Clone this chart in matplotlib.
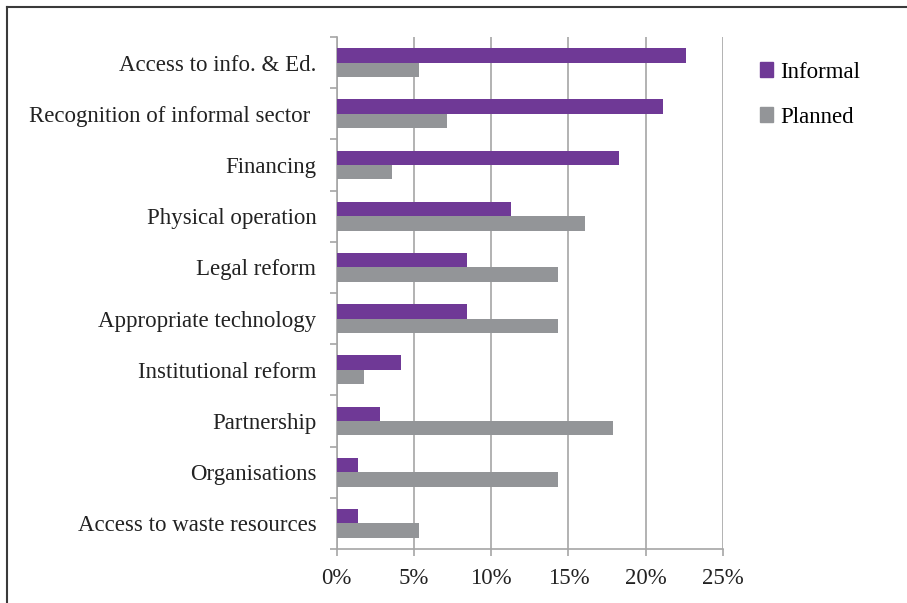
import matplotlib.pyplot as plt
from matplotlib.patches import Rectangle
from matplotlib.lines import Line2D
from matplotlib.ticker import MultipleLocator, PercentFormatter
import numpy as np

categories = ["Access to info. & Ed.", "Recognition of informal sector ", "Financing",
              "Physical operation", "Legal reform", "Appropriate technology",
              "Institutional reform", "Partnership", "Organisations",
              "Access to waste resources"]
informal = [22.6, 21.1, 18.3, 11.3, 8.45, 8.45, 4.2, 2.8, 1.4, 1.4]
planned = [5.36, 7.15, 3.57, 16.1, 14.3, 14.3, 1.8, 17.9, 14.3, 5.36]

purple = "#6f3996"
grey = "#939598"
axis_col = "#a6a6a6"
fs = 16.5

plt.rcParams['font.family'] = ['Liberation Serif', 'DejaVu Serif']

fig = plt.figure(figsize=(9.07, 6.03), dpi=100)
ax = fig.add_axes([336.5 / 907, 54 / 603, 386.5 / 907, 512 / 603])

y = np.arange(len(categories))
h = 0.28
ax.barh(y - h / 2, informal, height=h, color=purple, label="Informal", zorder=3)
ax.barh(y + h / 2, planned, height=h, color=grey, label="Planned", zorder=3)

ax.set_xlim(0, 25)
ax.set_ylim(len(categories) - 0.5, -0.5)
ax.xaxis.set_major_locator(MultipleLocator(5))
ax.xaxis.set_major_formatter(PercentFormatter(decimals=0))
ax.grid(axis='x', color=axis_col, linewidth=1.2, zorder=0)

ax.set_yticks(y)
ax.set_yticklabels(categories)
ax.set_yticks(np.arange(len(categories) + 1) - 0.5, minor=True)
ax.tick_params(axis='y', which='major', length=0, pad=14.5, labelsize=fs, colors='#222222')
ax.tick_params(axis='y', which='minor', length=5, width=1.2, color=axis_col)
ax.tick_params(axis='x', length=5, width=1.2, color=axis_col, labelsize=fs,
               labelcolor='#222222', pad=9)

for s in ['top', 'right']:
    ax.spines[s].set_visible(False)
for s in ['left', 'bottom']:
    ax.spines[s].set_color(axis_col)
    ax.spines[s].set_linewidth(1.2)

handles = [Rectangle((0, 0), 1, 1, color=purple), Rectangle((0, 0), 1, 1, color=grey)]
fig.legend(handles, ["Informal", "Planned"], loc='upper left',
           bbox_to_anchor=(739 / 907, 1 - 41 / 603), frameon=False,
           fontsize=fs, handlelength=0.6, handleheight=0.6,
           handletextpad=0.3, labelspacing=1.05)

# frame lines along the top and left edges
fig.add_artist(Line2D([7 / 907, 1], [1 - 7 / 603] * 2, color='#3a3a3a', lw=1.5))
fig.add_artist(Line2D([7 / 907] * 2, [0, 1 - 7 / 603], color='#3a3a3a', lw=1.5))

fig.savefig("out.png", dpi=100)
